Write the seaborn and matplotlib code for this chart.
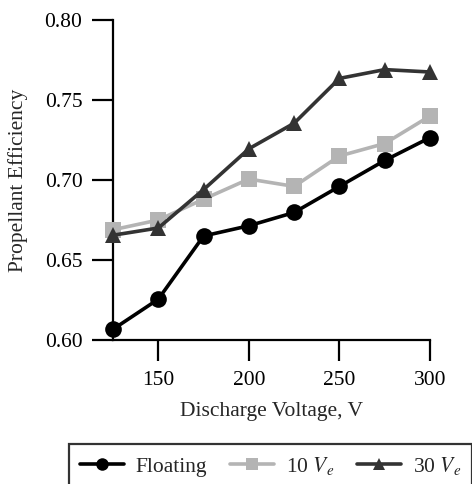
import matplotlib
matplotlib.use("Agg")
import matplotlib.pyplot as plt
import seaborn as sns
import pandas as pd

# Discharge voltage (V) and propellant efficiency for each cathode condition
voltage = [125, 150, 175, 200, 225, 250, 275, 300]
floating = [0.6067, 0.6255, 0.6650, 0.6714, 0.6797, 0.6960, 0.7122, 0.7265]
ve_10 = [0.6689, 0.6750, 0.6880, 0.7006, 0.6960, 0.7150, 0.7228, 0.7400]
ve_30 = [0.6655, 0.6700, 0.6940, 0.7195, 0.7355, 0.7635, 0.7690, 0.7675]

series_names = ["Floating", "10 $V_e$", "30 $V_e$"]
x_ticks = [150, 200, 250, 300]
y_ticks = [0.60, 0.65, 0.70, 0.75, 0.80]

sns.set_style("ticks")
plt.rcParams["font.family"] = ["Liberation Serif", "DejaVu Serif"]
plt.rcParams["mathtext.fontset"] = "stix"
FS = 15.5
plt.rcParams["font.size"] = FS

df = pd.DataFrame({
    "Discharge Voltage, V": voltage * 3,
    "Propellant Efficiency": floating + ve_10 + ve_30,
    "Condition": [series_names[0]] * len(voltage)
                 + [series_names[1]] * len(voltage)
                 + [series_names[2]] * len(voltage),
})

fig = plt.figure(figsize=(4.72, 4.84), dpi=100)
ax = fig.add_axes([113 / 472, 1 - 340 / 484, (430 - 113) / 472, (340 - 20) / 484])

palette = {series_names[0]: "#000000", series_names[1]: "#b4b4b4", series_names[2]: "#333333"}
markers = {series_names[0]: "o", series_names[1]: "s", series_names[2]: "^"}

sns.lineplot(
    data=df, x="Discharge Voltage, V", y="Propellant Efficiency",
    hue="Condition", style="Condition", palette=palette, markers=markers,
    dashes=False, linewidth=2.6, markersize=12, markeredgewidth=0,
    ax=ax, legend=False, clip_on=False, zorder=3,
)

ax.set_xlim(125, 300)
ax.set_ylim(0.60, 0.80)
ax.set_xticks(x_ticks)
ax.set_yticks(y_ticks)
ax.set_yticklabels([f"{v:.2f}" for v in y_ticks])
ax.tick_params(direction="out", length=15, width=1.6, labelsize=FS, pad=7, colors="black")
for s in ["top", "right"]:
    ax.spines[s].set_visible(False)
for s in ["left", "bottom"]:
    ax.spines[s].set_linewidth(1.6)
    ax.spines[s].set_color("black")
ax.set_xlabel("Discharge Voltage, V", fontsize=FS, labelpad=9)
ax.set_ylabel("Propellant Efficiency", fontsize=FS, labelpad=12)

# Legend handles mirror the line styles above
handles = []
for name in series_names:
    (h,) = ax.plot([], [], color=palette[name], marker=markers[name],
                   linewidth=2.6, markersize=9, markeredgewidth=0)
    handles.append(h)

leg = fig.legend(
    handles, series_names, loc="upper left",
    bbox_to_anchor=(69 / 472, 1 - 444 / 484), ncol=3, frameon=True,
    fancybox=False, edgecolor="black", fontsize=FS, handlelength=2.05,
    handletextpad=0.55, columnspacing=1.05, borderpad=0.5, borderaxespad=0,
)
leg.get_frame().set_linewidth(1.6)

fig.savefig("out.png", dpi=100)
